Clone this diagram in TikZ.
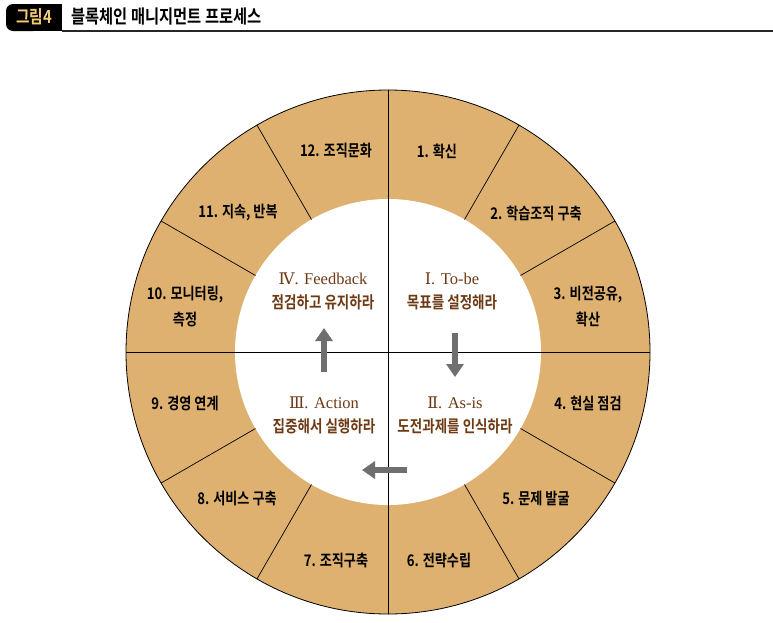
\documentclass[tikz,border=0pt]{standalone}
\usepackage{fontspec}
\setmainfont{Liberation Serif}
\newfontfamily\kor{Noto Sans CJK KR Bold}[FakeStretch=0.82]
\newfontfamily\numeralfont{DejaVu Serif}
\usetikzlibrary{arrows.meta}
\tikzset{>={Triangle[width=17pt,length=13pt]}}
\definecolor{ring}{HTML}{DEB170}
\definecolor{darkbrown}{HTML}{6E3A14}
\definecolor{flowgray}{HTML}{6F6F6F}
\definecolor{gold}{HTML}{F2CB74}
\newcommand{\KOR}[2]{{\kor\fontsize{#1}{#1}\selectfont #2}}
\newcommand{\RN}[1]{{\numeralfont\fontsize{16}{16}\selectfont #1}}

\begin{document}
\begin{tikzpicture}[x=1pt,y=-1pt,
  seg/.style={align=center, inner sep=0pt, font=\kor\fontsize{16}{26}\selectfont},
  phase/.style={align=center, inner sep=0pt, text=darkbrown, font=\fontsize{16.5}{24}\selectfont},
  flow/.style={->, line width=6pt, draw=flowgray}]

  \useasboundingbox (0,0) rectangle (773,622);

  %% title
  \fill[black, rounded corners=7pt] (6,4) rectangle (40,31);
  \fill[black] (30,4) rectangle (62,31);
  \draw[line width=1.2pt, color=black!85] (62,31) -- (773,31);
  \node[text=gold] (fig) at (34,17) {\KOR{18}{그림4}};
  \node[anchor=west] (title) at (68,16) {\KOR{18.7}{블록체인 매니지먼트 프로세스}};

  \coordinate (O) at (388,352);

  %% ring
  \draw[fill=ring, line width=0.8pt] (O) circle [radius=262pt];
  \fill[white] (O) circle [radius=153pt];
  \foreach \a in {30,60,120,150,210,240,300,330}
    \draw[line width=0.7pt] ([shift={(\a:153pt)}]O) -- ([shift={(\a:262pt)}]O);
  \draw[line width=0.9pt] ([shift={(0,-262pt)}]O) -- ([shift={(0,262pt)}]O);
  \draw[line width=0.9pt] ([shift={(-262pt,0)}]O) -- ([shift={(262pt,0)}]O);

  %% ring segments
  \node[seg] (s1)  at (437,151) {1. 확신};
  \node[seg] (s2)  at (536,213) {2. 학습조직 구축};
  \node[seg] (s3)  at (588,306) {3. 비전공유,\\확산};
  \node[seg] (s4)  at (588,403) {4. 현실 점검};
  \node[seg] (s5)  at (536,498) {5. 문제 발굴};
  \node[seg] (s6)  at (439,560) {6. 전략수립};
  \node[seg] (s7)  at (336,560) {7. 조직구축};
  \node[seg] (s8)  at (237,498) {8. 서비스 구축};
  \node[seg] (s9)  at (185,403) {9. 경영 연계};
  \node[seg] (s10) at (185,306) {10. 모니터링,\\측정};
  \node[seg] (s11) at (238,213) {11. 지속, 반복};
  \node[seg] (s12) at (336,151) {12. 조직문화};

  %% phases
  \node[phase] (p1) at (452,291) {\RN{Ⅰ}. To-be\\\KOR{16.5}{목표를 설정해라}};
  \node[phase] (p2) at (455,415) {\RN{Ⅱ}. As-is\\\KOR{16.5}{도전과제를 인식하라}};
  \node[phase] (p3) at (324,415) {\RN{Ⅲ}. Action\\\KOR{16.5}{집중해서 실행하라}};
  \node[phase] (p4) at (323,291) {\RN{Ⅳ}. Feedback\\\KOR{16.5}{점검하고 유지하라}};

  %% flow
  \coordinate (d1) at (455,333);
  \coordinate (d2) at (455,377);
  \coordinate (l1) at (407,470);
  \coordinate (l2) at (362,470);
  \coordinate (u1) at (324,372);
  \coordinate (u2) at (324,328);
  \draw[flow] (d1) -- (d2);
  \draw[flow] (l1) -- (l2);
  \draw[flow] (u1) -- (u2);

\end{tikzpicture}
\end{document}
